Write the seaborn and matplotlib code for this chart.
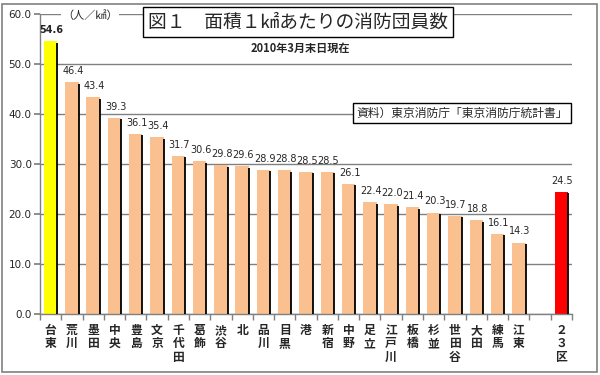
import matplotlib
matplotlib.use("Agg")
import matplotlib.pyplot as plt
import seaborn as sns
import pandas as pd
import numpy as np
from matplotlib.patches import Rectangle

wards = ["台東", "荒川", "墨田", "中央", "豊島", "文京", "千代田", "葛飾", "渋谷", "北",
         "品川", "目黒", "港", "新宿", "中野", "足立", "江戸川", "板橋", "杉並", "世田谷",
         "大田", "練馬", "江東", "", "２３区"]
values = [54.6, 46.4, 43.4, 39.3, 36.1, 35.4, 31.7, 30.6, 29.8, 29.6,
          28.9, 28.8, 28.5, 28.5, 26.1, 22.4, 22.0, 21.4, 20.3, 19.7,
          18.8, 16.1, 14.3, np.nan, 24.5]
yticks = [0, 10, 20, 30, 40, 50, 60]

ORANGE = "#FAC08F"
colors = ["#FFFF00"] + [ORANGE] * 22 + ["#FFFFFF", "#FF0000"]

sns.set_theme(style="white")
plt.rcParams['font.family'] = ['Noto Sans CJK JP', 'DejaVu Sans']

df = pd.DataFrame({"ward": wards, "value": values})

fig = plt.figure(figsize=(6, 3.75), dpi=100)
ax = fig.add_axes([40/600, 1 - 314/375, (572-40)/600, 300/375])

sns.barplot(data=df, x="ward", y="value", hue="ward", palette=colors, order=wards,
            hue_order=wards, legend=False, width=0.63, ax=ax, saturation=1,
            edgecolor="none", linewidth=0)

# black shadow edge on right side of each bar
for p in ax.patches:
    h = p.get_height()
    if np.isfinite(h) and h > 0:
        xr = p.get_x() + p.get_width()
        ax.plot([xr, xr], [0, h - 0.3], color="black", lw=1.3, solid_capstyle="butt", zorder=3)

ax.set_xlim(-0.5, len(wards) - 0.5)
ax.set_ylim(0, 60)
ax.set_yticks(yticks)
ax.set_yticklabels([f"{v:.1f}" for v in yticks], fontsize=7.5, family="DejaVu Sans")
ax.yaxis.grid(True, color="#808080", lw=1.0)
ax.set_axisbelow(True)
for s in ["top", "right"]:
    ax.spines[s].set_visible(False)
for s in ["left", "bottom"]:
    ax.spines[s].set_color("#808080")
    ax.spines[s].set_linewidth(1.0)
ax.tick_params(axis="y", which="major", left=True, length=4, color="#808080", pad=2)

# category labels vertical
ax.set_xticks(range(len(wards)))
ax.set_xticklabels(["\n".join(list(w)) for w in wards], fontsize=8.5, fontweight="bold",
                   linespacing=1.05, va="top")
ax.tick_params(axis="x", which="major", length=0, pad=7)
ax.set_xticks(np.arange(-0.5, len(wards), 1.0), minor=True)
ax.tick_params(axis="x", which="minor", bottom=True, length=4, color="#808080", direction="out")
ax.set_xlabel("")
ax.set_ylabel("")

# value labels
for i, v in enumerate(values):
    if np.isfinite(v):
        ax.text(i + 0.05, v + 1.2, f"{v:.1f}", ha="center", va="bottom", fontsize=7,
                family="DejaVu Sans", fontweight="bold" if i == 0 else "normal")

# unit label
fig.text(62/600, 1 - 16/375, "（人／㎢）", fontsize=8, va="center", ha="left",
         bbox=dict(facecolor="white", edgecolor="none", pad=1))

# title box
fig.text(298/600, 1 - 22/375, "図１　面積１㎢あたりの消防団員数", fontsize=13.5,
         ha="center", va="center",
         bbox=dict(facecolor="white", edgecolor="black", lw=1.0, boxstyle="square,pad=0.25"))
fig.text(300/600, 1 - 48/375, "2010年3月末日現在", fontsize=8, fontweight="bold",
         ha="center", va="center")

# source box
fig.text(462/600, 1 - 113/375, "資料）東京消防庁「東京消防庁統計書」", fontsize=8.5,
         ha="center", va="center",
         bbox=dict(facecolor="white", edgecolor="black", lw=1.0, boxstyle="square,pad=0.3"))

# outer frame
fig.patches.append(Rectangle((2/600, 3/375), 595/600, 368/375, transform=fig.transFigure,
                             fill=False, edgecolor="#808080", lw=1.2))

fig.savefig("out.png", dpi=100)
